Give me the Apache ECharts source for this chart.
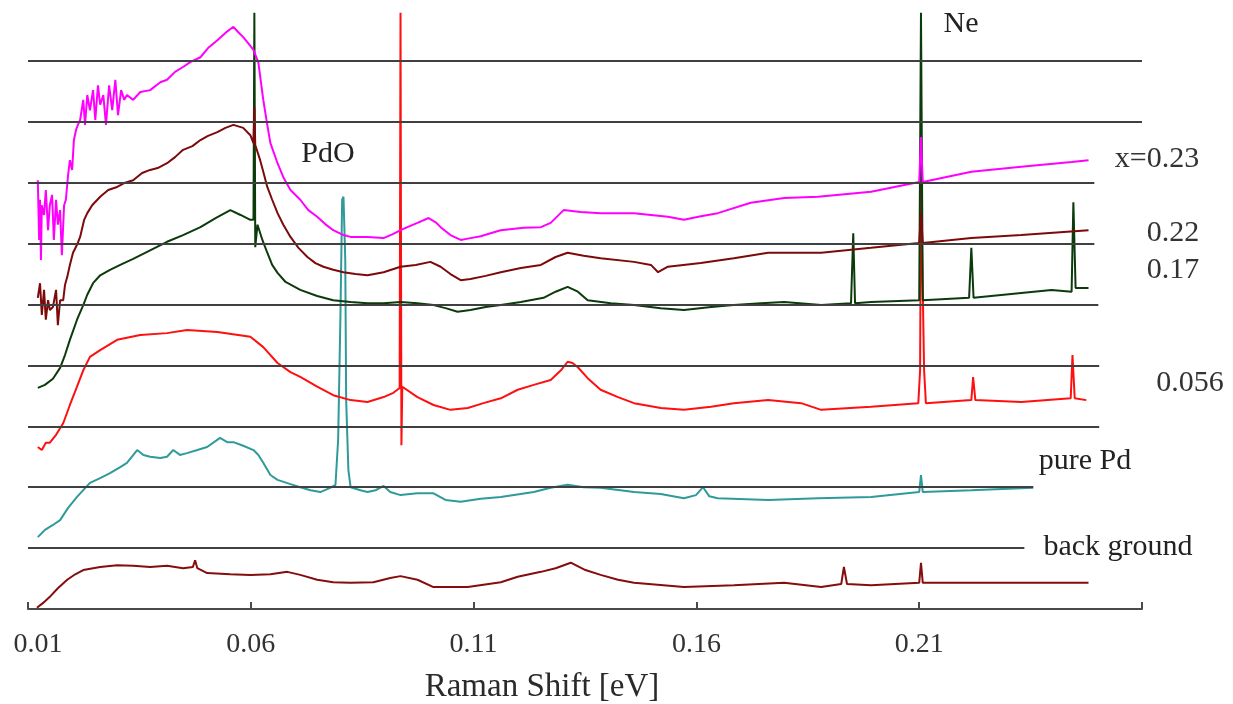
<!DOCTYPE html>
<html>
<head>
<meta charset="utf-8">
<title>Raman spectra of PdOx</title>
<script src="https://cdn.jsdelivr.net/npm/echarts@6.0.0/dist/echarts.min.js"></script>
<style>
  html, body { margin: 0; padding: 0; background: #fff; }
  #chart { width: 1233px; height: 704px; }
</style>
</head>
<body>
<div id="chart"></div>
<script>
// Raman shift [eV] vs intensity (arbitrary units, curves offset)
const shiftX023 = [
  [0.0122, 7.04], [0.0125, 6.06], [0.0127, 6.72], [0.0129, 5.73], [0.0131, 6.63], [0.0136, 6.47],
  [0.0140, 6.88], [0.0145, 6.22], [0.0149, 6.63], [0.0154, 6.80], [0.0158, 6.06], [0.0163, 6.72],
  [0.0167, 6.31], [0.0172, 6.55], [0.0176, 5.81], [0.0181, 6.63], [0.0185, 6.72], [0.0190, 7.13],
  [0.0194, 7.37], [0.0199, 7.21], [0.0203, 7.70], [0.0208, 7.87], [0.0212, 7.95], [0.0217, 8.03],
  [0.0224, 8.36], [0.0228, 7.95], [0.0233, 8.44], [0.0239, 8.19], [0.0246, 8.52], [0.0251, 8.03],
  [0.0257, 8.60], [0.0262, 8.28], [0.0269, 8.44], [0.0275, 7.95], [0.0282, 8.60], [0.0289, 8.19],
  [0.0296, 8.69], [0.0302, 8.11], [0.0309, 8.52], [0.0316, 8.36], [0.0322, 8.44], [0.0336, 8.36],
  [0.0352, 8.49], [0.0374, 8.52], [0.0397, 8.65], [0.0412, 8.69], [0.0430, 8.82], [0.0448, 8.90],
  [0.0464, 8.98], [0.0487, 9.06], [0.0504, 9.21], [0.0525, 9.34], [0.0543, 9.46], [0.0561, 9.56],
  [0.0572, 9.47], [0.0583, 9.39], [0.0594, 9.29], [0.0606, 9.18], [0.0617, 8.97], [0.0628, 8.36],
  [0.0637, 7.95], [0.0644, 7.65], [0.0660, 7.32], [0.0673, 7.09], [0.0689, 6.88], [0.0711, 6.72],
  [0.0729, 6.55], [0.0749, 6.44], [0.0767, 6.32], [0.0785, 6.22], [0.0808, 6.14], [0.0824, 6.11],
  [0.0862, 6.11], [0.0898, 6.09], [0.0920, 6.16], [0.0936, 6.22], [0.0958, 6.29], [0.0974, 6.34],
  [0.0999, 6.42], [0.1015, 6.35], [0.1026, 6.27], [0.1048, 6.14], [0.1071, 6.06], [0.1093, 6.09],
  [0.1116, 6.12], [0.1138, 6.17], [0.1161, 6.22], [0.1212, 6.26], [0.1251, 6.27], [0.1273, 6.34],
  [0.1302, 6.55], [0.1340, 6.52], [0.1385, 6.50], [0.1460, 6.50], [0.1536, 6.44], [0.1572, 6.39],
  [0.1610, 6.45], [0.1648, 6.50], [0.1722, 6.67], [0.1797, 6.75], [0.1873, 6.77], [0.1992, 6.85],
  [0.2100, 7.01], [0.2104, 7.75], [0.2108, 7.01], [0.2217, 7.18], [0.2329, 7.26], [0.2442, 7.34],
  [0.2480, 7.37]
];

const shiftX022 = [
  [0.0122, 5.11], [0.0127, 5.35], [0.0131, 4.83], [0.0136, 5.24], [0.0140, 4.75], [0.0145, 5.07],
  [0.0149, 4.91], [0.0156, 4.96], [0.0163, 5.24], [0.0167, 4.66], [0.0172, 5.07], [0.0179, 5.07],
  [0.0183, 5.32], [0.0188, 5.45], [0.0194, 5.65], [0.0201, 5.85], [0.0210, 5.98], [0.0217, 6.11],
  [0.0226, 6.39], [0.0233, 6.50], [0.0244, 6.63], [0.0262, 6.77], [0.0280, 6.88], [0.0300, 6.93],
  [0.0318, 7.00], [0.0336, 7.04], [0.0356, 7.16], [0.0374, 7.21], [0.0391, 7.24], [0.0412, 7.32],
  [0.0430, 7.42], [0.0448, 7.54], [0.0469, 7.60], [0.0487, 7.70], [0.0504, 7.77], [0.0525, 7.83],
  [0.0543, 7.90], [0.0561, 7.95], [0.0583, 7.90], [0.0599, 7.78], [0.0606, 7.65], [0.0608, 8.24],
  [0.0610, 7.62], [0.0621, 7.37], [0.0628, 7.18], [0.0637, 6.93], [0.0648, 6.72], [0.0660, 6.50],
  [0.0673, 6.31], [0.0689, 6.11], [0.0707, 5.93], [0.0727, 5.78], [0.0745, 5.68], [0.0763, 5.62],
  [0.0785, 5.57], [0.0808, 5.53], [0.0835, 5.50], [0.0862, 5.48], [0.0898, 5.53], [0.0936, 5.62],
  [0.0970, 5.65], [0.1003, 5.70], [0.1026, 5.62], [0.1048, 5.50], [0.1071, 5.40], [0.1093, 5.42],
  [0.1127, 5.47], [0.1161, 5.53], [0.1206, 5.60], [0.1251, 5.65], [0.1284, 5.78], [0.1311, 5.85],
  [0.1347, 5.80], [0.1385, 5.76], [0.1460, 5.70], [0.1498, 5.65], [0.1514, 5.53], [0.1536, 5.62],
  [0.1610, 5.68], [0.1684, 5.76], [0.1761, 5.85], [0.1880, 5.85], [0.1992, 5.93], [0.2100, 6.01],
  [0.2104, 6.50], [0.2108, 6.01], [0.2217, 6.09], [0.2329, 6.14], [0.2480, 6.22]
];

const shiftX017 = [
  [0.0122, 3.63], [0.0138, 3.68], [0.0156, 3.78], [0.0172, 3.96], [0.0183, 4.17], [0.0194, 4.42],
  [0.0210, 4.75], [0.0224, 4.99], [0.0233, 5.16], [0.0246, 5.35], [0.0262, 5.48], [0.0284, 5.57],
  [0.0307, 5.65], [0.0336, 5.75], [0.0374, 5.89], [0.0412, 6.03], [0.0448, 6.14], [0.0487, 6.27],
  [0.0521, 6.42], [0.0554, 6.55], [0.0577, 6.47], [0.0599, 6.39], [0.0606, 6.39], [0.0608, 9.79],
  [0.0610, 5.94], [0.0615, 6.31], [0.0626, 6.06], [0.0637, 5.85], [0.0648, 5.65], [0.0660, 5.52],
  [0.0678, 5.37], [0.0711, 5.24], [0.0749, 5.14], [0.0785, 5.07], [0.0824, 5.04], [0.0862, 5.02],
  [0.0898, 5.02], [0.0936, 5.04], [0.0974, 5.02], [0.1010, 4.99], [0.1037, 4.94], [0.1064, 4.88],
  [0.1093, 4.91], [0.1127, 4.96], [0.1161, 4.99], [0.1206, 5.04], [0.1257, 5.11], [0.1284, 5.21],
  [0.1311, 5.29], [0.1334, 5.21], [0.1356, 5.07], [0.1408, 5.02], [0.1460, 4.99], [0.1520, 4.94],
  [0.1572, 4.91], [0.1633, 4.96], [0.1684, 4.99], [0.1745, 5.02], [0.1797, 5.04], [0.1880, 4.99],
  [0.1947, 5.02], [0.1952, 6.17], [0.1956, 5.02], [0.1992, 5.04], [0.2100, 5.07], [0.2104, 9.79],
  [0.2108, 5.07], [0.2212, 5.11], [0.2217, 5.93], [0.2222, 5.11], [0.2329, 5.19], [0.2397, 5.24],
  [0.2442, 5.21], [0.2446, 6.68], [0.2451, 5.27], [0.2480, 5.27]
];

const shiftX0056 = [
  [0.0122, 2.66], [0.0131, 2.61], [0.0140, 2.73], [0.0149, 2.73], [0.0163, 2.86], [0.0179, 3.05],
  [0.0194, 3.35], [0.0210, 3.65], [0.0224, 3.92], [0.0239, 4.14], [0.0262, 4.25], [0.0300, 4.42],
  [0.0352, 4.50], [0.0412, 4.53], [0.0457, 4.58], [0.0525, 4.55], [0.0599, 4.47], [0.0628, 4.30],
  [0.0660, 4.04], [0.0689, 3.89], [0.0711, 3.81], [0.0749, 3.65], [0.0785, 3.51], [0.0824, 3.43],
  [0.0862, 3.40], [0.0898, 3.48], [0.0920, 3.55], [0.0934, 3.63], [0.0936, 9.79], [0.0938, 2.69],
  [0.0940, 3.65], [0.0974, 3.48], [0.1010, 3.35], [0.1048, 3.27], [0.1087, 3.30], [0.1122, 3.38],
  [0.1161, 3.46], [0.1199, 3.60], [0.1235, 3.68], [0.1273, 3.76], [0.1296, 3.92], [0.1311, 4.06],
  [0.1322, 4.04], [0.1334, 3.97], [0.1356, 3.79], [0.1385, 3.60], [0.1424, 3.48], [0.1460, 3.38],
  [0.1520, 3.30], [0.1572, 3.27], [0.1633, 3.32], [0.1684, 3.38], [0.1761, 3.43], [0.1835, 3.38],
  [0.1880, 3.27], [0.1992, 3.32], [0.2098, 3.38], [0.2102, 3.92], [0.2104, 7.01], [0.2108, 7.01],
  [0.2111, 3.92], [0.2115, 3.38], [0.2217, 3.43], [0.2221, 3.81], [0.2226, 3.43],
  [0.2329, 3.40], [0.2440, 3.46], [0.2444, 4.17], [0.2449, 3.46], [0.2475, 3.43]
];

const shiftPurePd = [
  [0.0122, 1.18], [0.0138, 1.30], [0.0156, 1.38], [0.0172, 1.46], [0.0190, 1.66], [0.0210, 1.84],
  [0.0239, 2.07], [0.0262, 2.15], [0.0284, 2.23], [0.0307, 2.33], [0.0322, 2.40], [0.0345, 2.61],
  [0.0359, 2.53], [0.0374, 2.50], [0.0397, 2.48], [0.0412, 2.50], [0.0426, 2.61], [0.0441, 2.53],
  [0.0457, 2.56], [0.0480, 2.61], [0.0502, 2.66], [0.0531, 2.81], [0.0547, 2.74], [0.0561, 2.74],
  [0.0583, 2.68], [0.0606, 2.61], [0.0617, 2.53], [0.0628, 2.40], [0.0644, 2.20], [0.0660, 2.12],
  [0.0689, 2.05], [0.0711, 2.00], [0.0734, 1.95], [0.0756, 1.92], [0.0778, 1.99], [0.0790, 2.04],
  [0.0796, 2.78], [0.0801, 4.75], [0.0805, 6.72], [0.0808, 6.77], [0.0812, 5.73], [0.0814, 3.43],
  [0.0819, 2.28], [0.0824, 2.00], [0.0846, 1.95], [0.0862, 1.92], [0.0880, 1.95], [0.0898, 2.02],
  [0.0913, 1.92], [0.0936, 1.87], [0.0974, 1.90], [0.1010, 1.90], [0.1037, 1.79], [0.1071, 1.76],
  [0.1116, 1.81], [0.1161, 1.84], [0.1235, 1.92], [0.1273, 1.99], [0.1311, 2.04], [0.1347, 2.00],
  [0.1385, 1.99], [0.1460, 1.92], [0.1520, 1.89], [0.1572, 1.82], [0.1599, 1.87], [0.1615, 2.00],
  [0.1629, 1.85], [0.1648, 1.82], [0.1761, 1.79], [0.1873, 1.82], [0.1992, 1.84], [0.2100, 1.92],
  [0.2104, 2.20], [0.2108, 1.92], [0.2217, 1.95], [0.2356, 1.99]
];

const shiftBackground = [
  [0.0120, 0.02], [0.0134, 0.10], [0.0149, 0.20], [0.0167, 0.34], [0.0188, 0.48], [0.0206, 0.57],
  [0.0224, 0.64], [0.0262, 0.69], [0.0300, 0.72], [0.0336, 0.71], [0.0374, 0.69], [0.0412, 0.71],
  [0.0448, 0.67], [0.0470, 0.69], [0.0475, 0.80], [0.0480, 0.67], [0.0502, 0.59], [0.0554, 0.57],
  [0.0599, 0.56], [0.0644, 0.57], [0.0682, 0.61], [0.0711, 0.56], [0.0749, 0.48], [0.0785, 0.44],
  [0.0824, 0.43], [0.0875, 0.44], [0.0913, 0.51], [0.0936, 0.54], [0.0974, 0.48], [0.1010, 0.36],
  [0.1087, 0.36], [0.1161, 0.44], [0.1199, 0.53], [0.1251, 0.61], [0.1284, 0.67], [0.1318, 0.76],
  [0.1351, 0.64], [0.1385, 0.56], [0.1424, 0.48], [0.1460, 0.43], [0.1572, 0.36], [0.1684, 0.39],
  [0.1797, 0.43], [0.1880, 0.36], [0.1925, 0.41], [0.1931, 0.69], [0.1938, 0.41], [0.1992, 0.39],
  [0.2100, 0.43], [0.2104, 0.76], [0.2108, 0.43], [0.2255, 0.43], [0.2480, 0.43]
];

// horizontal reference lines (level, right end in eV)
const baseLevels = [1, 2, 3, 4, 5, 6, 7, 8, 9];
const baseEnds = [0.2336, 0.2356, 0.2504, 0.2504, 0.2502, 0.2493, 0.2493, 0.26, 0.26];

const tickValues = [0.01, 0.06, 0.11, 0.16, 0.21, 0.26];
const labelValues = [0.01, 0.06, 0.11, 0.16, 0.21];

const serif = '"Liberation Serif", "Times New Roman", serif';

const chart = echarts.init(document.getElementById('chart'));

function trace(name, data, color) {
  return {
    name: name,
    type: 'line',
    data: data,
    symbol: 'none',
    showSymbol: false,
    animation: false,
    z: 3,
    emphasis: { disabled: true },
    lineStyle: { color: color, width: 2 }
  };
}

const option = {
  backgroundColor: '#ffffff',
  animation: false,
  grid: {
    left: 28,
    right: 91,
    top: 0,
    bottom: 95,
    containLabel: false,
    outerBoundsMode: 'none'
  },
  xAxis: {
    type: 'value',
    min: 0.01,
    max: 0.26,
    name: 'Raman Shift [eV]',
    nameLocation: 'middle',
    nameGap: 62,
    nameTextStyle: {
      fontFamily: serif,
      fontSize: 33,
      color: '#2a2a2a',
      padding: [0, 86, 0, 0]
    },
    axisLine: { show: true, lineStyle: { color: '#4a4a4a', width: 2 } },
    axisTick: {
      show: true,
      inside: true,
      length: 7,
      customValues: tickValues,
      lineStyle: { color: '#4a4a4a', width: 2 }
    },
    axisLabel: {
      customValues: labelValues,
      margin: 22,
      fontFamily: serif,
      fontSize: 28,
      color: '#333',
      formatter: function (v) {
        if (Math.abs(v - labelValues[0]) < 1e-9) return '{first|' + v.toFixed(2) + '}';
        return v.toFixed(2);
      },
      rich: {
        first: { fontFamily: serif, fontSize: 28, color: '#333', padding: [0, 0, 0, 20] }
      }
    },
    splitLine: { show: false }
  },
  yAxis: {
    type: 'value',
    min: 0,
    max: 10,
    show: false
  },
  series: [
    {
      name: 'base',
      type: 'line',
      data: [],
      z: 1,
      silent: true,
      markLine: {
        silent: true,
        animation: false,
        symbol: ['none', 'none'],
        label: { show: false },
        lineStyle: { color: '#404040', width: 2, type: 'solid' },
        emphasis: { disabled: true },
        data: baseLevels.map(function (lv, i) {
          return [{ coord: [0.01, lv] }, { coord: [baseEnds[i], lv] }];
        })
      }
    },
    trace('pure Pd', shiftPurePd, '#2f9a9a'),
    trace('back ground', shiftBackground, '#850d0d'),
    trace('0.056', shiftX0056, '#ff1010'),
    trace('0.17', shiftX017, '#0b3a0b'),
    trace('0.22', shiftX022, '#7d0a0a'),
    trace('x=0.23', shiftX023, '#ff00ff')
  ],
  graphic: [
    { type: 'text', style: { text: 'PdO', x: 328, y: 154, textAlign: 'center', textVerticalAlign: 'middle', font: '30px ' + serif, fill: '#222' } },
    { type: 'text', style: { text: 'Ne', x: 961, y: 24, textAlign: 'center', textVerticalAlign: 'middle', font: '30px ' + serif, fill: '#222' } },
    { type: 'text', style: { text: 'x=0.23', x: 1157, y: 159, textAlign: 'center', textVerticalAlign: 'middle', font: '30px ' + serif, fill: '#333' } },
    { type: 'text', style: { text: '0.22', x: 1173, y: 233, textAlign: 'center', textVerticalAlign: 'middle', font: '30px ' + serif, fill: '#333' } },
    { type: 'text', style: { text: '0.17', x: 1173, y: 270, textAlign: 'center', textVerticalAlign: 'middle', font: '30px ' + serif, fill: '#333' } },
    { type: 'text', style: { text: '0.056', x: 1190, y: 383, textAlign: 'center', textVerticalAlign: 'middle', font: '30px ' + serif, fill: '#333' } },
    { type: 'text', style: { text: 'pure Pd', x: 1085, y: 461, textAlign: 'center', textVerticalAlign: 'middle', font: '30px ' + serif, fill: '#222' } },
    { type: 'text', style: { text: 'back ground', x: 1118, y: 547, textAlign: 'center', textVerticalAlign: 'middle', font: '30px ' + serif, fill: '#222' } }
  ]
};

chart.setOption(option);
</script>
</body>
</html>
